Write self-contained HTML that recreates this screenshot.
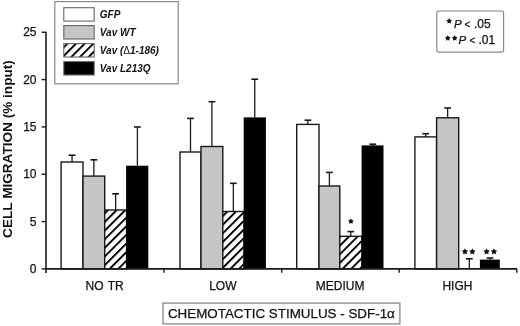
<!DOCTYPE html>
<html><head><meta charset="utf-8"><style>
html,body{margin:0;padding:0;background:#fff;}
body{width:520px;height:326px;overflow:hidden;}
svg{display:block;filter:blur(0.3px);}
text{font-family:"Liberation Sans",sans-serif;stroke:#111;stroke-width:0.25px;}
text[font-weight=bold]{stroke-width:0;}
</style></head><body>
<svg width="520" height="326" viewBox="0 0 520 326">
<defs>
<pattern id="hatch" patternUnits="userSpaceOnUse" width="6.1" height="6.1" patternTransform="rotate(45) translate(4.4 0)">
<rect width="6.1" height="6.1" fill="#fff"/>
<rect x="0" y="0" width="1.9" height="6.1" fill="#000"/>
</pattern>
<pattern id="gray" patternUnits="userSpaceOnUse" width="2" height="2">
<rect width="2" height="2" fill="#c8c8c8"/>
<rect width="1" height="1" fill="#bcbcbc"/>
</pattern>
</defs>
<rect width="520" height="326" fill="#fff"/>

<rect x="61.10" y="162.00" width="21.90" height="106.90" fill="#ffffff" stroke="#1a1a1a" stroke-width="1.4"/>
<line x1="72.05" y1="162.00" x2="72.05" y2="155.20" stroke="#1a1a1a" stroke-width="1.3"/>
<line x1="68.65" y1="155.20" x2="75.45" y2="155.20" stroke="#1a1a1a" stroke-width="1.6"/>
<rect x="83.00" y="176.10" width="21.70" height="92.80" fill="url(#gray)" stroke="#1a1a1a" stroke-width="1.4"/>
<line x1="93.85" y1="176.10" x2="93.85" y2="159.80" stroke="#1a1a1a" stroke-width="1.3"/>
<line x1="90.45" y1="159.80" x2="97.25" y2="159.80" stroke="#1a1a1a" stroke-width="1.6"/>
<rect x="104.70" y="210.00" width="21.90" height="58.90" fill="url(#hatch)" stroke="#1a1a1a" stroke-width="1.4"/>
<line x1="115.65" y1="210.00" x2="115.65" y2="193.80" stroke="#1a1a1a" stroke-width="1.3"/>
<line x1="112.25" y1="193.80" x2="119.05" y2="193.80" stroke="#1a1a1a" stroke-width="1.6"/>
<rect x="126.10" y="165.70" width="22.20" height="103.50" fill="#000"/>
<line x1="137.40" y1="165.60" x2="137.40" y2="127.00" stroke="#1a1a1a" stroke-width="1.3"/>
<line x1="134.00" y1="127.00" x2="140.80" y2="127.00" stroke="#1a1a1a" stroke-width="1.6"/>
<rect x="180.00" y="152.00" width="21.00" height="116.90" fill="#ffffff" stroke="#1a1a1a" stroke-width="1.4"/>
<line x1="190.50" y1="152.00" x2="190.50" y2="118.40" stroke="#1a1a1a" stroke-width="1.3"/>
<line x1="187.10" y1="118.40" x2="193.90" y2="118.40" stroke="#1a1a1a" stroke-width="1.6"/>
<rect x="201.00" y="146.50" width="21.80" height="122.40" fill="url(#gray)" stroke="#1a1a1a" stroke-width="1.4"/>
<line x1="211.90" y1="146.50" x2="211.90" y2="101.70" stroke="#1a1a1a" stroke-width="1.3"/>
<line x1="208.50" y1="101.70" x2="215.30" y2="101.70" stroke="#1a1a1a" stroke-width="1.6"/>
<rect x="222.80" y="211.50" width="21.10" height="57.40" fill="url(#hatch)" stroke="#1a1a1a" stroke-width="1.4"/>
<line x1="233.35" y1="211.50" x2="233.35" y2="183.30" stroke="#1a1a1a" stroke-width="1.3"/>
<line x1="229.95" y1="183.30" x2="236.75" y2="183.30" stroke="#1a1a1a" stroke-width="1.6"/>
<rect x="243.70" y="117.40" width="22.20" height="151.80" fill="#000"/>
<line x1="254.75" y1="117.50" x2="254.75" y2="79.20" stroke="#1a1a1a" stroke-width="1.3"/>
<line x1="251.35" y1="79.20" x2="258.15" y2="79.20" stroke="#1a1a1a" stroke-width="1.6"/>
<rect x="296.70" y="124.40" width="22.30" height="144.50" fill="#ffffff" stroke="#1a1a1a" stroke-width="1.4"/>
<line x1="307.85" y1="124.40" x2="307.85" y2="120.20" stroke="#1a1a1a" stroke-width="1.3"/>
<line x1="304.45" y1="120.20" x2="311.25" y2="120.20" stroke="#1a1a1a" stroke-width="1.6"/>
<rect x="319.00" y="186.00" width="20.80" height="82.90" fill="url(#gray)" stroke="#1a1a1a" stroke-width="1.4"/>
<line x1="329.40" y1="186.00" x2="329.40" y2="172.40" stroke="#1a1a1a" stroke-width="1.3"/>
<line x1="326.00" y1="172.40" x2="332.80" y2="172.40" stroke="#1a1a1a" stroke-width="1.6"/>
<rect x="339.80" y="236.30" width="22.00" height="32.60" fill="url(#hatch)" stroke="#1a1a1a" stroke-width="1.4"/>
<line x1="350.80" y1="236.30" x2="350.80" y2="231.60" stroke="#1a1a1a" stroke-width="1.3"/>
<line x1="347.40" y1="231.60" x2="354.20" y2="231.60" stroke="#1a1a1a" stroke-width="1.6"/>
<rect x="361.60" y="145.40" width="21.90" height="123.80" fill="#000"/>
<line x1="372.75" y1="146.00" x2="372.75" y2="144.20" stroke="#1a1a1a" stroke-width="1.3"/>
<line x1="369.35" y1="144.20" x2="376.15" y2="144.20" stroke="#1a1a1a" stroke-width="1.6"/>
<rect x="414.90" y="136.90" width="21.70" height="132.00" fill="#ffffff" stroke="#1a1a1a" stroke-width="1.4"/>
<line x1="425.75" y1="136.90" x2="425.75" y2="133.70" stroke="#1a1a1a" stroke-width="1.3"/>
<line x1="422.35" y1="133.70" x2="429.15" y2="133.70" stroke="#1a1a1a" stroke-width="1.6"/>
<rect x="436.60" y="117.80" width="22.10" height="151.10" fill="url(#gray)" stroke="#1a1a1a" stroke-width="1.4"/>
<line x1="447.65" y1="117.80" x2="447.65" y2="108.00" stroke="#1a1a1a" stroke-width="1.3"/>
<line x1="444.25" y1="108.00" x2="451.05" y2="108.00" stroke="#1a1a1a" stroke-width="1.6"/>
<line x1="469.30" y1="268.60" x2="469.30" y2="258.80" stroke="#1a1a1a" stroke-width="1.3"/>
<line x1="465.90" y1="258.80" x2="472.70" y2="258.80" stroke="#1a1a1a" stroke-width="1.6"/>
<rect x="479.90" y="259.60" width="19.90" height="9.60" fill="#000"/>
<line x1="489.95" y1="260.20" x2="489.95" y2="258.00" stroke="#1a1a1a" stroke-width="1.3"/>
<line x1="486.55" y1="258.00" x2="493.35" y2="258.00" stroke="#1a1a1a" stroke-width="1.6"/>
<line x1="46" y1="31.8" x2="46" y2="273" stroke="#1a1a1a" stroke-width="1.6"/>
<line x1="45.2" y1="268.9" x2="517" y2="268.9" stroke="#1a1a1a" stroke-width="1.6"/>
<line x1="41.6" y1="268.90" x2="46" y2="268.90" stroke="#1a1a1a" stroke-width="1.4"/>
<text x="36.5" y="272.50" font-size="12" text-anchor="end" fill="#111">0</text>
<line x1="41.6" y1="221.57" x2="46" y2="221.57" stroke="#1a1a1a" stroke-width="1.4"/>
<text x="36.5" y="225.57" font-size="12" text-anchor="end" fill="#111">5</text>
<line x1="41.6" y1="174.24" x2="46" y2="174.24" stroke="#1a1a1a" stroke-width="1.4"/>
<text x="36.5" y="178.24" font-size="12" text-anchor="end" fill="#111">10</text>
<line x1="41.6" y1="126.91" x2="46" y2="126.91" stroke="#1a1a1a" stroke-width="1.4"/>
<text x="36.5" y="130.91" font-size="12" text-anchor="end" fill="#111">15</text>
<line x1="41.6" y1="79.58" x2="46" y2="79.58" stroke="#1a1a1a" stroke-width="1.4"/>
<text x="36.5" y="83.58" font-size="12" text-anchor="end" fill="#111">20</text>
<line x1="41.6" y1="32.25" x2="46" y2="32.25" stroke="#1a1a1a" stroke-width="1.4"/>
<text x="36.5" y="36.25" font-size="12" text-anchor="end" fill="#111">25</text>
<line x1="163.9" y1="268.9" x2="163.9" y2="272.8" stroke="#1a1a1a" stroke-width="1.4"/>
<line x1="281.7" y1="268.9" x2="281.7" y2="272.8" stroke="#1a1a1a" stroke-width="1.4"/>
<line x1="399.2" y1="268.9" x2="399.2" y2="272.8" stroke="#1a1a1a" stroke-width="1.4"/>
<line x1="516.8" y1="268.9" x2="516.8" y2="272.8" stroke="#1a1a1a" stroke-width="1.4"/>
<text x="104.6" y="290.2" font-size="12" text-anchor="middle" fill="#111" word-spacing="1">NO TR</text>
<text x="222.8" y="290.2" font-size="12" text-anchor="middle" fill="#111">LOW</text>
<text x="340.2" y="290.2" font-size="12" text-anchor="middle" fill="#111">MEDIUM</text>
<text x="457.4" y="290.2" font-size="12" text-anchor="middle" fill="#111">HIGH</text>
<text transform="translate(12.4,149.05) rotate(-90)" font-size="13.6" font-weight="bold" text-anchor="middle" fill="#111">CELL MIGRATION (% input)</text>
<rect x="163.0" y="303.1" width="236.9" height="20.8" fill="#fff" stroke="#888" stroke-width="1.3"/>
<text x="167.9" y="317.7" font-size="13.4" fill="#111">CHEMOTACTIC STIMULUS - SDF-1α</text>
<rect x="54.8" y="1.6" width="123.4" height="82.2" fill="#fff" stroke="#888" stroke-width="1.2"/>
<rect x="63.8" y="7.70" width="30.4" height="13.4" fill="#ffffff" stroke="#666" stroke-width="1.1"/>
<text x="99.8" y="17.90" font-size="10" font-weight="bold" font-style="italic" fill="#111">GFP</text>
<rect x="63.8" y="25.60" width="30.4" height="13.4" fill="url(#gray)" stroke="#666" stroke-width="1.1"/>
<text x="99.8" y="35.80" font-size="10" font-weight="bold" font-style="italic" fill="#111">Vav WT</text>
<rect x="63.8" y="43.60" width="30.4" height="13.4" fill="url(#hatch)" stroke="#666" stroke-width="1.1"/>
<text x="99.8" y="53.80" font-size="10" font-weight="bold" font-style="italic" fill="#111">Vav (<tspan font-weight="normal" font-style="normal">Δ</tspan>1-186)</text>
<rect x="63.8" y="61.60" width="30.4" height="13.4" fill="#000000" stroke="#666" stroke-width="1.1"/>
<text x="99.8" y="71.80" font-size="10" font-weight="bold" font-style="italic" fill="#111">Vav L213Q</text>
<rect x="436.8" y="11.0" width="66.8" height="41.2" rx="2.2" fill="#fff" stroke="#888" stroke-width="1.2"/>
<polygon points="449.20,18.10 450.17,19.77 452.05,20.17 450.77,21.61 450.96,23.53 449.20,22.75 447.44,23.53 447.63,21.61 446.35,20.17 448.23,19.77" fill="#111"/>
<text x="454" y="27.5" font-size="11.5" font-style="italic" fill="#111">P</text>
<text x="464.6" y="27.5" font-size="10" fill="#111">&lt;</text>
<text x="474" y="27.5" font-size="12" fill="#111">.05</text>
<polygon points="447.80,35.20 448.77,36.87 450.65,37.27 449.37,38.71 449.56,40.63 447.80,39.85 446.04,40.63 446.23,38.71 444.95,37.27 446.83,36.87" fill="#111"/>
<polygon points="454.70,35.20 455.67,36.87 457.55,37.27 456.27,38.71 456.46,40.63 454.70,39.85 452.94,40.63 453.13,38.71 451.85,37.27 453.73,36.87" fill="#111"/>
<text x="458.6" y="43.8" font-size="11.5" font-style="italic" fill="#111">P</text>
<text x="469.4" y="43.8" font-size="10" fill="#111">&lt;</text>
<text x="478.4" y="43.8" font-size="12" fill="#111">.01</text>
<polygon points="350.90,218.40 351.87,220.07 353.75,220.47 352.47,221.91 352.66,223.83 350.90,223.05 349.14,223.83 349.33,221.91 348.05,220.47 349.93,220.07" fill="#111"/>
<polygon points="465.00,248.30 466.07,250.13 468.14,250.58 466.73,252.16 466.94,254.27 465.00,253.41 463.06,254.27 463.27,252.16 461.86,250.58 463.93,250.13" fill="#111"/>
<polygon points="472.40,248.30 473.47,250.13 475.54,250.58 474.13,252.16 474.34,254.27 472.40,253.41 470.46,254.27 470.67,252.16 469.26,250.58 471.33,250.13" fill="#111"/>
<polygon points="486.60,248.30 487.67,250.13 489.74,250.58 488.33,252.16 488.54,254.27 486.60,253.41 484.66,254.27 484.87,252.16 483.46,250.58 485.53,250.13" fill="#111"/>
<polygon points="494.00,248.30 495.07,250.13 497.14,250.58 495.73,252.16 495.94,254.27 494.00,253.41 492.06,254.27 492.27,252.16 490.86,250.58 492.93,250.13" fill="#111"/>
</svg></body></html>
